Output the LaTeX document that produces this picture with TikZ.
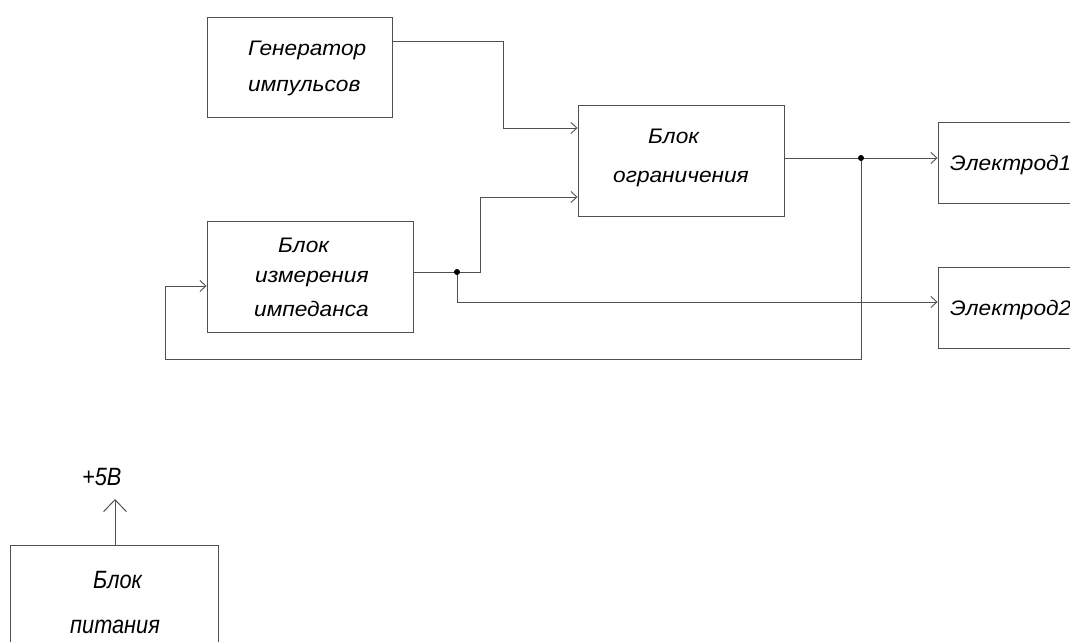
\documentclass[tikz,border=0pt]{standalone}
\usepackage{fontspec}
\setmainfont{Liberation Sans}
\usetikzlibrary{arrows.meta}
\definecolor{linegray}{HTML}{505050}
\tikzset{
  box/.style={draw=linegray, line width=0.9pt, fill=none, inner sep=0pt},
  conn/.style={draw=linegray, line width=0.9pt},
  tip/.style={-{Straight Barb[length=6pt,width=11pt,line width=0.9pt]}},
  bigtip/.style={-{Straight Barb[length=12pt,width=23pt,line width=1pt]}},
  lbl/.style={anchor=base west, inner sep=0pt, font=\fontsize{21}{25}\selectfont\itshape},
  plbl/.style={anchor=base west, inner sep=0pt, font=\fontsize{25}{30}\selectfont\itshape},
  dot/.style={circle, fill=black, inner sep=0pt, minimum size=6pt}
}
\newcommand{\wide}[1]{\scalebox{1.08}[1]{#1}}
\newcommand{\narr}[1]{\scalebox{0.87}[1]{#1}}
\begin{document}
\begin{tikzpicture}[x=1pt,y=-1pt]
\useasboundingbox (0,0) rectangle (1070,642);
% boxes
\node[box, minimum width=185pt, minimum height=100pt] (gen) at (299.5,67) {};
\node[box, minimum width=206pt, minimum height=111pt] (lim) at (681,160.5) {};
\node[box, minimum width=206pt, minimum height=111pt] (imp) at (310,276.5) {};
\node[box, minimum width=212pt, minimum height=81pt] (el1) at (1044,162.5) {};
\node[box, minimum width=212pt, minimum height=81pt] (el2) at (1044,307.5) {};
\node[box, minimum width=208pt, minimum height=155pt] (pw) at (114,622.5) {};
% labels
\node[lbl] (t1) at (248,56) {\wide{Генератор}};
\node[lbl] (t2) at (248,92) {\wide{импульсов}};
\node[lbl] (t3) at (648,143) {\wide{Блок}};
\node[lbl] (t4) at (613,182) {\wide{ограничения}};
\node[lbl] (t5) at (278,252) {\wide{Блок}};
\node[lbl] (t6) at (255,282) {\wide{измерения}};
\node[lbl] (t7) at (254,316) {\wide{импеданса}};
\node[lbl] (t8) at (950,170) {\wide{Электрод1}};
\node[lbl] (t9) at (950,315) {\wide{Электрод2}};
\node[plbl] (t10) at (93,588) {\narr{Блок}};
\node[plbl] (t11) at (70,633) {\narr{питания}};
\node[plbl] (t12) at (82,485) {\narr{+5В}};
% junctions
\coordinate (j1) at (861,158);
\coordinate (j2) at (457,272);
\coordinate (v5) at (115,499);
% connectors
\draw[conn,tip] (gen.east |- 0,41) -| (503,128) -- (lim.west |- 0,128);
\draw[conn] (lim.east |- j1) -- (j1);
\draw[conn,tip] (j1) -- (el1.west |- j1);
\draw[conn,tip] (j1) -- (861,359) -| (165,286) -- (imp.west |- 0,286);
\draw[conn] (imp.east |- j2) -- (j2);
\draw[conn,tip] (j2) -| (480,197) -- (lim.west |- 0,197);
\draw[conn,tip] (j2) |- (el2.west |- 0,302);
\draw[conn,bigtip] (pw.north -| v5) -- (v5);
\node[dot] at (j1) {};
\node[dot] at (j2) {};
\end{tikzpicture}
\end{document}
